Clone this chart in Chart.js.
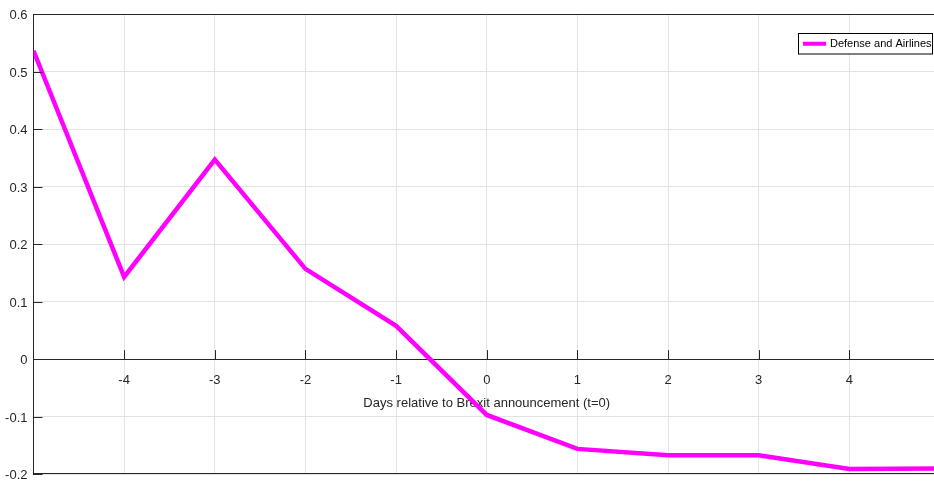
<!DOCTYPE html>
<html>
<head>
<meta charset="utf-8">
<script src="https://cdn.jsdelivr.net/npm/chart.js@4.4.1/dist/chart.umd.min.js"></script>
<style>
  html, body { margin: 0; padding: 0; background: #fff; overflow: hidden; }
  /* the figure is a bit wider than the window, its right edge is cut like in the original */
  #wrap { width: 953px; height: 488px; }
</style>
</head>
<body>
<div id="wrap"><canvas id="myChart"></canvas></div>
<script>
// days relative to the announcement and the matching series
const days = [-5, -4, -3, -2, -1, 0, 1, 2, 3, 4, 5];
const defenseAirlines = [0.536, 0.143, 0.347, 0.157, 0.058, -0.097, -0.156, -0.167, -0.167, -0.191, -0.190];
const xTicks = [-4, -3, -2, -1, 0, 1, 2, 3, 4];
const yTicks = [-0.2, -0.1, 0, 0.1, 0.2, 0.3, 0.4, 0.5, 0.6];
const seriesName = "Defense and Airlines";
const xTitle = "Days relative to Brexit announcement (t=0)";

const fontFam = "'Liberation Sans', Arial, sans-serif";
const lineColor = "#ff00ff";
const axisColor = "#262626";

// matlab style frame, inner ticks and legend box
const matlabBits = {
    id: "matlabBits",
    afterDatasetsDraw(chart) {
        const ctx = chart.ctx;
        const area = chart.chartArea;
        const xs = chart.scales.x;
        const ys = chart.scales.y;
        ctx.save();
        ctx.strokeStyle = axisColor;
        ctx.lineWidth = 1;

        // top and bottom frame
        ctx.beginPath();
        ctx.moveTo(area.left, Math.round(area.top) + 0.5);
        ctx.lineTo(area.right, Math.round(area.top) + 0.5);
        ctx.moveTo(area.left, Math.round(area.bottom) - 0.5);
        ctx.lineTo(area.right, Math.round(area.bottom) - 0.5);
        ctx.stroke();

        // ticks on the x axis (pointing up from y=0)
        const y0 = ys.getPixelForValue(0);
        ctx.beginPath();
        xTicks.forEach(v => {
            const px = Math.round(xs.getPixelForValue(v)) + 0.5;
            ctx.moveTo(px, y0);
            ctx.lineTo(px, y0 - 9);
        });
        // ticks on the y axis (pointing right)
        yTicks.forEach(v => {
            const py = Math.round(ys.getPixelForValue(v)) + 0.5;
            ctx.moveTo(area.left, py);
            ctx.lineTo(area.left + 9, py);
        });
        ctx.stroke();

        // legend
        const bx = 798.5, by = 33.5, bw = 134, bh = 20.5;
        ctx.fillStyle = "#fff";
        ctx.fillRect(bx, by, bw, bh);
        ctx.strokeStyle = "#000";
        ctx.strokeRect(bx, by, bw, bh);
        ctx.beginPath();
        ctx.strokeStyle = lineColor;
        ctx.lineWidth = 4;
        ctx.moveTo(803, by + bh / 2);
        ctx.lineTo(826, by + bh / 2);
        ctx.stroke();
        ctx.fillStyle = "#000";
        ctx.font = "11px " + fontFam;
        ctx.textBaseline = "middle";
        ctx.textAlign = "left";
        ctx.fillText(chart.data.datasets[0].label, 830, by + bh / 2 + 0.5);
        ctx.restore();
    }
};

let chart = new Chart("myChart", {
    type: "line",
    data: {
        labels: days,
        datasets: [{
            label: seriesName,
            data: days.map((d, i) => ({ x: d, y: defenseAirlines[i] })),
            borderColor: lineColor,
            borderWidth: 4.5,
            pointRadius: 0,
            tension: 0,
            fill: false
        }]
    },
    options: {
        responsive: true,
        maintainAspectRatio: false,
        animation: false,
        layout: { padding: { top: 14, bottom: 12, right: 6.5, left: 0 } },
        plugins: {
            legend: { display: false },
            tooltip: { enabled: false }
        },
        scales: {
            x: {
                type: "linear",
                min: -5,
                max: 5,
                position: { y: 0 },
                afterBuildTicks: scale => { scale.ticks = days.map(v => ({ value: v })); },
                ticks: {
                    color: axisColor,
                    font: { family: fontFam, size: 13 },
                    padding: 13,
                    maxRotation: 0,
                    autoSkip: false,
                    callback: v => xTicks.includes(v) ? String(v) : ""
                },
                grid: { color: "#e3e3e3", drawTicks: false },
                border: { color: axisColor, width: 1 },
                title: {
                    display: true,
                    text: xTitle,
                    color: axisColor,
                    font: { family: fontFam, size: 13 },
                    padding: { top: -5, bottom: 0 }
                }
            },
            y: {
                min: -0.2,
                max: 0.6,
                afterBuildTicks: scale => { scale.ticks = yTicks.map(v => ({ value: v })); },
                afterFit: scale => { scale.width = 33.5; },
                ticks: {
                    color: axisColor,
                    font: { family: fontFam, size: 13 },
                    padding: 6,
                    labelOffset: 1.5,
                    callback: v => String(Math.round(v * 10) / 10)
                },
                grid: { color: "#e3e3e3", drawTicks: false },
                border: { color: axisColor, width: 1 }
            }
        }
    },
    plugins: [matlabBits]
});
</script>
</body>
</html>
